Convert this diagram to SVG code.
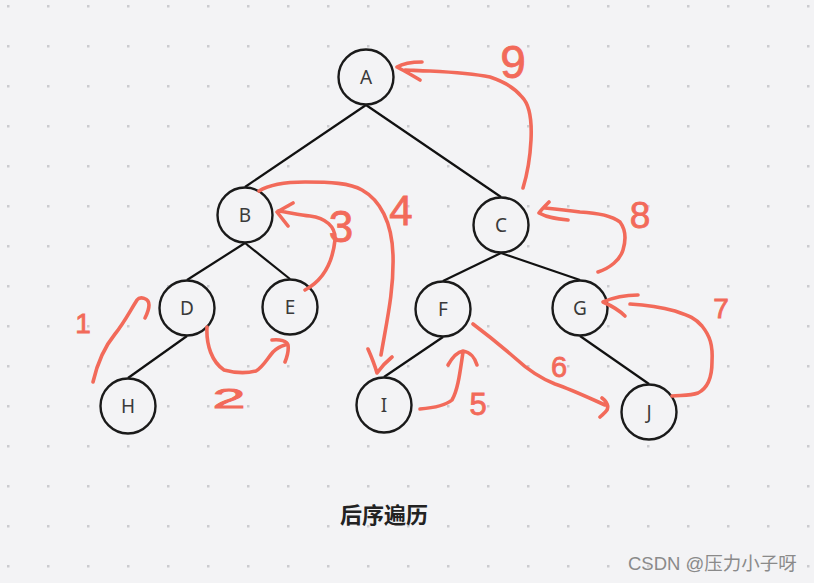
<svg xmlns="http://www.w3.org/2000/svg" width="814" height="583" viewBox="0 0 814 583">
<defs>
<pattern id="dots" x="0" y="0" width="40" height="40" patternUnits="userSpaceOnUse">
<rect x="7" y="5" width="2.5" height="2.5" fill="#cbcbcf"/>
</pattern>
<style>
.node circle{fill:#f3f3f5;stroke:#1a1a1a;stroke-width:2.4}
.node text{font-family:"Noto Sans","DejaVu Sans",sans-serif;font-size:19px;fill:#3a3a3a;text-anchor:middle;dominant-baseline:central}
.edge{stroke:#111;stroke-width:2.2;fill:none}
.red{stroke:#f26a5a;stroke-width:3.6;fill:none;stroke-linecap:round;stroke-linejoin:round}
.num{font-family:"Liberation Sans","DejaVu Sans",sans-serif;fill:#f26a5a;stroke:#f26a5a;stroke-width:0.8;text-anchor:middle}
</style>
</defs>
<rect width="814" height="583" fill="#f3f3f5"/>
<rect width="814" height="583" fill="url(#dots)"/>

<g id="connectors">
<line class="edge" x1="366" y1="105" x2="245" y2="187"/>
<line class="edge" x1="366" y1="105" x2="501" y2="197"/>
<line class="edge" x1="245" y1="243" x2="187" y2="280"/>
<line class="edge" x1="245" y1="243" x2="290" y2="279"/>
<line class="edge" x1="501" y1="253" x2="443" y2="281"/>
<line class="edge" x1="501" y1="253" x2="580" y2="280"/>
<line class="edge" x1="187" y1="336" x2="128" y2="378"/>
<line class="edge" x1="443" y1="337" x2="384" y2="377"/>
<line class="edge" x1="580" y1="336" x2="649" y2="384"/>
</g>

<g id="node-A" class="node"><circle cx="366" cy="77" r="27.5"/><text x="366" y="77">A</text></g>
<g id="node-B" class="node"><circle cx="245" cy="215" r="27.5"/><text x="245" y="215">B</text></g>
<g id="node-C" class="node"><circle cx="501" cy="225" r="27.5"/><text x="501" y="225">C</text></g>
<g id="node-D" class="node"><circle cx="187" cy="308" r="27.5"/><text x="187" y="308">D</text></g>
<g id="node-E" class="node"><circle cx="290" cy="307" r="27.5"/><text x="290" y="307">E</text></g>
<g id="node-F" class="node"><circle cx="443" cy="309" r="27.5"/><text x="443" y="309">F</text></g>
<g id="node-G" class="node"><circle cx="580" cy="308" r="27.5"/><text x="580" y="308">G</text></g>
<g id="node-H" class="node"><circle cx="128" cy="406" r="27.5"/><text x="128" y="406">H</text></g>
<g id="node-I" class="node"><circle cx="384" cy="405" r="27.5"/><text x="384" y="405">I</text></g>
<g id="node-J" class="node"><circle cx="649" cy="412" r="27.5"/><text x="649" y="412">J</text></g>

<g id="annotations">
<path class="red" d="M93,382 C98,360 106,345 115,334 C124,323 130,311 137,300 C140,296 149,298 149,305 C149,310 147,314 145,318"/>
<path class="red" d="M207,327 C206,345 212,362 224,370 C235,373 248,373 256,371 C263,367 267,359 273,352 C277,348 281,346 285,345 M272,340 C280,339 287,341 288,345 C289,351 287,357 285,362"/>
<path class="red" d="M305,290 C320,282 332,268 335,240 C336,226 325,218 310,216 C298,215 288,212 278,211 M293,203 L277,212 L288,226"/>
<path class="red" d="M259,191 C270,184 285,182 305,182 C330,182 350,183 362,190 C380,200 392,222 393,255 C394,290 387,320 381,355 M368,349 C372,358 375,366 377,373 C382,366 387,361 392,357"/>
<path class="red" d="M420,409 C432,408 445,406 452,400 C458,390 460,372 463,352 M448,365 C452,358 457,352 463,351 C470,352 475,358 477,365"/>
<path class="red" d="M473,324 C485,333 500,345 515,358 C528,370 540,378 555,384 C570,389 585,396 605,405 M602,398 C606,401 609,405 607,410 C605,413 602,415 600,417"/>
<path class="red" d="M672,396 C680,395 690,396 698,393 C708,388 712,378 712,362 C713,345 710,336 702,326 C695,318 690,316 675,311 C660,307 645,305 630,304 M638,295 C625,295 612,298 603,302 C612,306 620,311 625,316"/>
<path class="red" d="M598,272 C610,268 620,260 623,250 C626,240 626,230 620,222 C612,216 600,213 580,212 C565,210 555,209 545,208 M549,202 C545,206 541,210 539,213 C548,218 558,219 568,220"/>
<path class="red" d="M523,188 C527,175 530,160 531,140 C532,120 530,105 522,97 C515,88 505,82 490,77 C470,73 450,72 430,71 C420,71 410,70 405,70 M422,62 C412,62 402,64 397,67 C405,71 413,76 420,80"/>
<text class="num" x="83" y="333" font-size="28">1</text>
<text class="num" x="229" y="408" font-size="27" textLength="33" lengthAdjust="spacingAndGlyphs" text-anchor="start">2</text>
<text class="num" x="341" y="242" font-size="44">3</text>
<text class="num" x="401" y="225" font-size="42">4</text>
<text class="num" x="478" y="415" font-size="31">5</text>
<text class="num" x="559" y="377" font-size="29">6</text>
<text class="num" x="721" y="318" font-size="28">7</text>
<text class="num" x="640" y="228" font-size="37">8</text>
<text class="num" x="513" y="78" font-size="46">9</text>
</g>

<text x="384" y="523" font-family="'Noto Sans CJK SC',sans-serif" font-size="22" font-weight="bold" fill="#222" text-anchor="middle">后序遍历</text>
<text x="628" y="570" font-family="'Liberation Sans','Noto Sans CJK SC',sans-serif" font-size="18.5" fill="#8a8a8a">CSDN @压力小子呀</text>
</svg>
